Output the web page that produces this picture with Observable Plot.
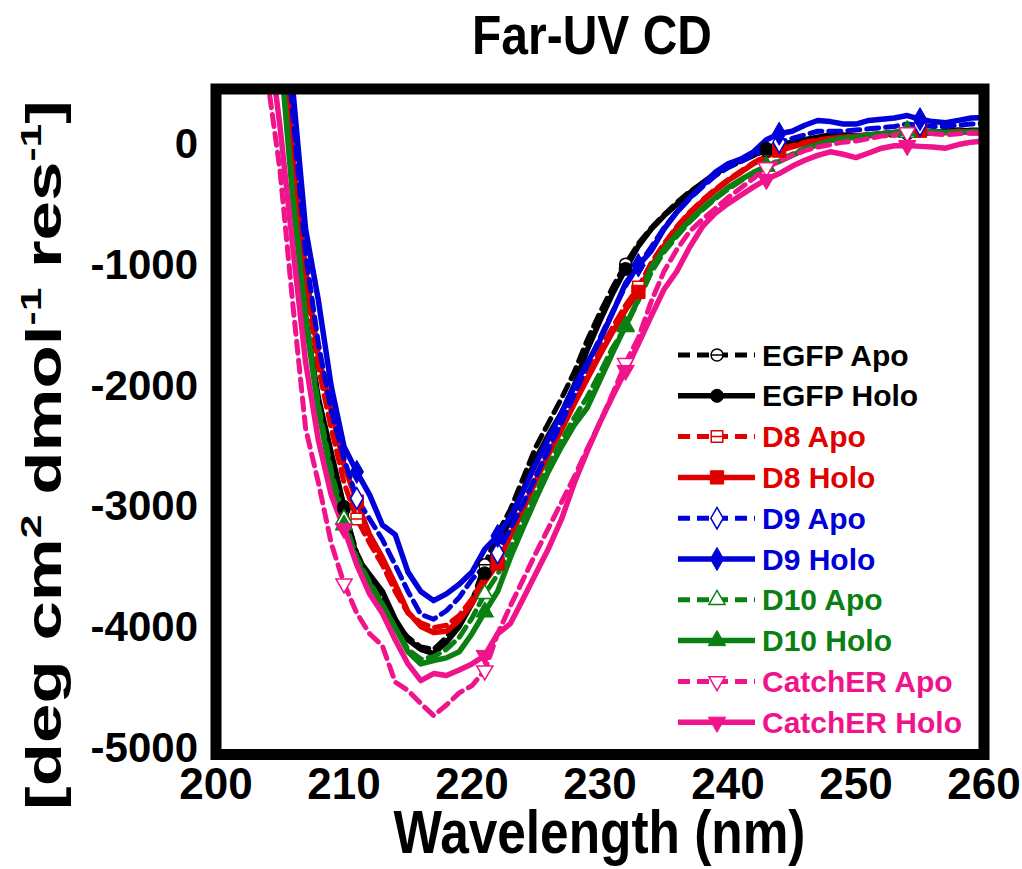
<!DOCTYPE html>
<html><head><meta charset="utf-8">
<script src="https://cdn.jsdelivr.net/npm/d3@7"></script>
<script src="https://cdn.jsdelivr.net/npm/@observablehq/plot@0.6"></script>
<style>
html,body{margin:0;padding:0;background:#fff;}
#chart{position:relative;width:1022px;height:869px;}
</style></head><body><div id="chart"></div>
<script>
const wavelength = [204,205,206,207,208,209,210,211,212,213,214,215,216,217,218,219,220,221,222,223,224,225,226,227,228,229,230,231,232,233,234,235,236,237,238,239,240,241,242,243,244,245,246,247,248,249,250,251,252,253,254,255,256,257,258,259,260];

const egfpApo = [2400,1150,-150,-1420,-2150,-2580,-3020,-3380,-3600,-3760,-3960,-4080,-4160,-4180,-4080,-3950,-3780,-3480,-3220,-3020,-2760,-2500,-2300,-2100,-1880,-1620,-1390,-1180,-990,-820,-690,-580,-480,-390,-320,-250,-190,-140,-90,-50,-20,0,20,40,50,60,70,70,80,80,90,100,100,110,110,120,120];
const egfpHolo = [2500,1270,-80,-1450,-2100,-2550,-3000,-3419,-3560,-3700,-3930,-4100,-4180,-4214,-4120,-3990,-3800,-3550,-3300,-3113,-2860,-2600,-2400,-2220,-1990,-1700,-1457,-1230,-1030,-840,-700,-590,-495,-400,-318,-240,-175,-130,-90,-35,-5,20,40,60,80,80,70,80,90,100,100,90,100,110,120,110,116];
const d8Apo = [2300,1100,-200,-1150,-1850,-2350,-2800,-3100,-3300,-3480,-3700,-3880,-3960,-4000,-3980,-3900,-3760,-3580,-3420,-3200,-2980,-2740,-2520,-2320,-2110,-1900,-1700,-1510,-1330,-1180,-980,-820,-680,-560,-460,-370,-290,-220,-150,-90,-40,-10,20,40,50,60,70,70,80,90,100,110,100,100,100,110,110];
const d8Holo = [2500,1250,-100,-1043,-1750,-2200,-2650,-2956,-3230,-3420,-3640,-3870,-3990,-4040,-4030,-3940,-3800,-3620,-3469,-3240,-3020,-2780,-2560,-2360,-2144,-1940,-1740,-1550,-1370,-1220,-1010,-840,-690,-570,-470,-380,-298,-230,-157,-100,-50,-20,10,30,50,60,70,80,90,100,110,116,100,100,110,100,99];
const d9Apo = [2800,1500,250,-900,-1650,-2200,-2600,-2930,-3100,-3270,-3480,-3700,-3890,-3930,-3860,-3750,-3600,-3490,-3380,-3180,-2972,-2750,-2520,-2300,-2070,-1830,-1600,-1380,-1170,-1000,-850,-690,-560,-450,-350,-260,-190,-140,-90,-30,20,50,80,110,110,110,120,130,140,150,170,160,150,150,160,170,175];
const d9Holo = [3000,1700,460,-700,-1292,-2000,-2500,-2710,-2900,-3150,-3230,-3540,-3700,-3776,-3720,-3640,-3540,-3350,-3240,-3080,-2870,-2640,-2430,-2220,-2000,-1810,-1620,-1390,-1150,-1000,-880,-700,-560,-440,-340,-230,-160,-120,-60,40,90,110,160,199,190,170,170,200,210,220,240,210,190,180,200,220,225];
const d10Apo = [1900,850,-400,-1400,-2150,-2700,-3100,-3420,-3620,-3800,-4000,-4180,-4260,-4240,-4180,-4080,-3920,-3720,-3560,-3340,-3100,-2880,-2650,-2450,-2260,-2090,-1890,-1680,-1510,-1290,-1060,-890,-760,-640,-540,-450,-370,-300,-240,-180,-130,-80,-30,0,30,50,60,70,80,90,100,110,110,100,100,110,110];
const d10Holo = [1800,800,-450,-1450,-2200,-2750,-3150,-3450,-3640,-3810,-4000,-4200,-4300,-4272,-4250,-4200,-4050,-3870,-3700,-3419,-3170,-2930,-2700,-2500,-2320,-2180,-1950,-1720,-1500,-1280,-1020,-870,-740,-630,-530,-440,-356,-290,-230,-180,-140,-90,-40,0,33,50,60,80,90,100,116,110,100,100,105,100,99];
const catcherApo = [560,-215,-1320,-2350,-2800,-3300,-3635,-3880,-4050,-4150,-4450,-4520,-4628,-4728,-4640,-4540,-4480,-4355,-4050,-3820,-3600,-3380,-3170,-2960,-2750,-2520,-2300,-2060,-1810,-1600,-1300,-1050,-870,-720,-620,-530,-439,-360,-280,-190,-140,-90,-50,-20,0,20,30,50,70,80,100,110,90,80,90,95,90];
const catcherHolo = [1000,150,-850,-1800,-2450,-2900,-3180,-3480,-3720,-3880,-4100,-4300,-4438,-4380,-4396,-4350,-4300,-4230,-4050,-3966,-3760,-3550,-3340,-3100,-2800,-2540,-2300,-2080,-1870,-1650,-1420,-1200,-1050,-850,-680,-570,-489,-420,-350,-290,-240,-180,-130,-90,-60,-80,-108,-70,-30,-10,-8,-15,-20,-30,0,20,30];

const seriesNames = ["EGFP Apo","EGFP Holo","D8 Apo","D8 Holo","D9 Apo","D9 Holo","D10 Apo","D10 Holo","CatchER Apo","CatchER Holo"];
const seriesValues = [egfpApo,egfpHolo,d8Apo,d8Holo,d9Apo,d9Holo,d10Apo,d10Holo,catcherApo,catcherHolo];
const markerWavelengths = [
  [210,221,232,243,254],[210,221,232,243,254],
  [211,222,233,244,255],[211,222,233,244,255],
  [211,222,233,244,255],[211,222,233,244,255],
  [210,221,232,243,254],[210,221,232,243,254],
  [210,221,232,243,254],[210,221,232,243,254]
];
const xTicks = [200,210,220,230,240,250,260];
const yTicks = [0,-1000,-2000,-3000,-4000,-5000];

// styles
const colors = ["#000000","#000000","#e00000","#e00000","#0000d8","#0000d8","#0a8012","#0a8012","#f0148c","#f0148c"];
const isApo = seriesNames.map(n => n.endsWith("Apo"));

const sqrt3 = Math.sqrt(3);
const circleBar = {draw(c, size){const r=Math.sqrt(size/Math.PI);c.moveTo(r,0);c.arc(0,0,r,0,2*Math.PI);c.moveTo(-r,0);c.lineTo(r,0);}};
const squareBar = {draw(c, size){const w=Math.sqrt(size)/2;c.moveTo(-w,-w);c.lineTo(w,-w);c.lineTo(w,w);c.lineTo(-w,w);c.closePath();c.moveTo(-w,0);c.lineTo(w,0);}};
const triDown = {draw(c, size){const y=-Math.sqrt(size/(sqrt3*3));c.moveTo(0,-2*y);c.lineTo(-sqrt3*y,y);c.lineTo(sqrt3*y,y);c.closePath();}};
const symbols = [circleBar, d3.symbolCircle, squareBar, d3.symbolSquare, d3.symbolDiamond, d3.symbolDiamond, d3.symbolTriangle, d3.symbolTriangle, triDown, triDown];
const symbolR = [6,6.5,6.5,7.5,6.5,7,6,6.5,6,6.5];
const solidW = 5.5, dashW = 5, dash = "12,7";

const marks = [];
seriesNames.forEach((name, s) => {
  const rows = wavelength.map((w, i) => ({wl: w, v: seriesValues[s][i]}));
  marks.push(Plot.line(rows, {x: "wl", y: "v", stroke: colors[s], strokeWidth: isApo[s] ? dashW : solidW,
    strokeDasharray: isApo[s] ? dash : null, strokeLinejoin: "round", clip: true}));
});
seriesNames.forEach((name, s) => {
  const pts = markerWavelengths[s].map(w => ({wl: w, v: seriesValues[s][wavelength.indexOf(w)]}));
  marks.push(Plot.dot(pts, {x: "wl", y: "v", symbol: symbols[s], r: symbolR[s],
    fill: isApo[s] ? "white" : colors[s], stroke: colors[s], strokeWidth: isApo[s] ? 1.5 : 1, clip: true}));
});
marks.push(Plot.axisX(xTicks, {tickSize: 0, tickPadding: 13, fontSize: 44, fontWeight: "bold", label: null, tickFormat: d => String(d)}));
marks.push(Plot.axisY(yTicks, {tickSize: 0, tickPadding: 18, fontSize: 42, fontWeight: "bold", label: null, tickFormat: d => String(d)}));
marks.push(Plot.frame({stroke: "black", strokeWidth: 11}));

const plot = Plot.plot({
  width: 1022, height: 869,
  marginLeft: 215.5, marginRight: 38.5, marginTop: 88.5, marginBottom: 115,
  x: {domain: [200, 260], label: null},
  y: {domain: [-5050, 460], label: null},
  style: {fontFamily: "'Liberation Sans', Arial, sans-serif", fontWeight: "bold", background: "white", color: "black"},
  marks
});
document.getElementById("chart").appendChild(plot);

const svg = d3.select(plot);
function fitText(t, target, cx, cy, rot) {
  const w = t.node().getBBox().width;
  t.attr("transform", `translate(${cx},${cy}) rotate(${rot}) scale(${target / w},1)`);
}
// title
const title = svg.append("text").attr("text-anchor", "middle").attr("font-size", 56).attr("font-weight", "bold")
  .attr("fill", "black").text("Far-UV CD");
fitText(title, 240, 592, 54, 0);
// x label
const xl = svg.append("text").attr("text-anchor", "middle").attr("font-size", 62).attr("font-weight", "bold")
  .attr("fill", "black").text("Wavelength (nm)");
fitText(xl, 412, 599.5, 853, 0);
// y label
const yl = svg.append("text").attr("text-anchor", "middle").attr("font-size", 50).attr("font-weight", "bold").attr("fill", "black");
yl.append("tspan").text("[deg cm");
yl.append("tspan").attr("font-size", 30).attr("dy", -20).text("2");
yl.append("tspan").attr("dy", 20).text(" dmol");
yl.append("tspan").attr("font-size", 30).attr("dy", -20).text("-1");
yl.append("tspan").attr("dy", 20).text(" res");
yl.append("tspan").attr("font-size", 30).attr("dy", -20).text("-1");
yl.append("tspan").attr("dy", 20).text("]");
fitText(yl, 710, 61, 455, -90);

// legend
const lg = svg.append("g").attr("class", "legend");
seriesNames.forEach((name, s) => {
  const cy = 355 + s * 40.8;
  const g = lg.append("g");
  g.append("line").attr("x1", 678).attr("x2", 755).attr("y1", cy).attr("y2", cy)
    .attr("stroke", colors[s]).attr("stroke-width", isApo[s] ? dashW : solidW)
    .attr("stroke-dasharray", isApo[s] ? dash : null);
  g.append("path").attr("d", d3.symbol(symbols[s], Math.PI * symbolR[s] * symbolR[s])())
    .attr("transform", `translate(717,${cy})`)
    .attr("fill", isApo[s] ? "white" : colors[s]).attr("stroke", colors[s]).attr("stroke-width", isApo[s] ? 1.5 : 1);
  g.append("text").attr("x", 762).attr("y", cy + 10.5).attr("font-size", 30).attr("font-weight", "bold")
    .attr("text-anchor", "start").attr("fill", colors[s]).text(name);
});
</script></body></html>
